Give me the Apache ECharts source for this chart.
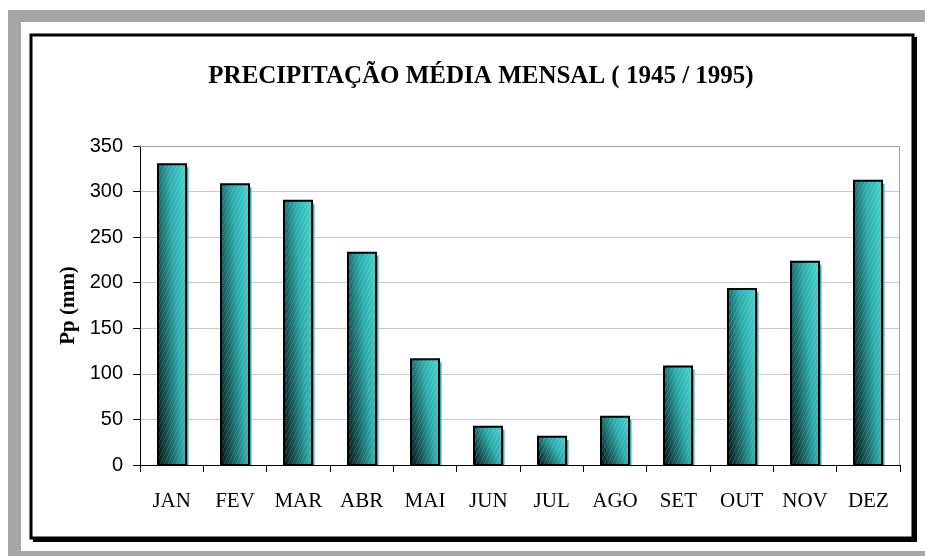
<!DOCTYPE html>
<html>
<head>
<meta charset="utf-8">
<script src="https://cdn.jsdelivr.net/npm/echarts@6/dist/echarts.min.js"></script>
<style>
  html, body { margin: 0; padding: 0; background: #fff; }
  #chart { width: 925px; height: 556px; }
</style>
</head>
<body>
<div id="chart"></div>
<script>
// dados (mm)
var months = ['JAN', 'FEV', 'MAR', 'ABR', 'MAI', 'JUN', 'JUL', 'AGO', 'SET', 'OUT', 'NOV', 'DEZ'];
var rainfall = [330, 308, 290, 233, 116, 42, 31, 53, 108, 193, 223, 312];
var yTicks = [0, 50, 100, 150, 200, 250, 300, 350];

var chart = echarts.init(document.getElementById('chart'));

// textura de listras diagonais finas
var hatch = document.createElement('canvas');
hatch.width = 4;
hatch.height = 8;
var hctx = hatch.getContext('2d');
hctx.strokeStyle = 'rgba(255,255,255,0.16)';
hctx.lineWidth = 1;
hctx.beginPath();
hctx.moveTo(0, 8);
hctx.lineTo(4, 0);
hctx.stroke();

var BAR_W = 28;
// peso horizontal / vertical do gradiente
var GRAD_A = 0.65, GRAD_B = 0.35;

/**
 * barra com gradiente (escuro em baixo à esquerda, ciano em cima à direita)
 * */
function renderBar(params, api) {
    var top = api.coord([api.value(0), api.value(1)]);
    var base = api.coord([api.value(0), 0]);
    var w = BAR_W;
    var h = Math.max(base[1] - top[1], 1);
    var x = Math.round(top[0] - w / 2);
    var y = top[1];
    // t = A*u + B*(1-v)  ->  vetor do gradiente em pixels
    var gx = GRAD_A / w, gy = -GRAD_B / h;
    var g2 = gx * gx + gy * gy;
    var x0 = x, y0 = y + h;
    var grad = new echarts.graphic.LinearGradient(x0, y0, x0 + gx / g2, y0 + gy / g2, [
        { offset: 0, color: '#041212' },
        { offset: 0.3, color: '#17605f' },
        { offset: 0.6, color: '#2cabab' },
        { offset: 1, color: '#42d6d2' }
    ], true);
    return {
        type: 'group',
        children: [
            // sombra 3D à direita
            { type: 'rect', shape: { x: x + w, y: y + 3, width: 2.5, height: Math.max(h - 3, 0) },
              style: { fill: '#2cb4b4' } },
            { type: 'rect', shape: { x: x, y: y, width: w, height: h },
              style: { fill: grad } },
            { type: 'rect', shape: { x: x, y: y, width: w, height: h },
              style: { fill: { image: hatch, repeat: 'repeat' }, stroke: '#000', lineWidth: 2 } }
        ]
    };
}

var frame = [
    // moldura cinza
    { type: 'rect', z: -10, shape: { x: 8, y: 10, width: 930, height: 560 }, style: { fill: '#a6a6a6' } },
    { type: 'rect', z: -9, shape: { x: 21, y: 22, width: 910, height: 529 }, style: { fill: '#fff' } },
    // sombra e borda preta
    { type: 'rect', z: -8, shape: { x: 33, y: 37, width: 884, height: 505 }, style: { fill: '#000' } },
    { type: 'rect', z: -7, shape: { x: 31, y: 35, width: 882, height: 503 },
      style: { fill: '#fff', stroke: '#000', lineWidth: 3 } },
    // borda cinza superior e direita da área do gráfico
    { type: 'polyline', z: 1, shape: { points: [[140, 146.5], [899.5, 146.5], [899.5, 465]] },
      style: { stroke: '#a0a0a0', lineWidth: 1, fill: null } }
];

var option = {
    animation: false,
    backgroundColor: '#fff',
    graphic: frame,
    title: {
        text: 'PRECIPITAÇÃO MÉDIA MENSAL ( 1945 / 1995)',
        left: 476,
        top: 59,
        textAlign: 'center',
        textStyle: {
            fontFamily: 'Liberation Serif',
            fontWeight: 'bold',
            fontSize: 25,
            color: '#000'
        }
    },
    grid: { left: 140, right: 25, top: 146, bottom: 91 },
    xAxis: {
        type: 'category',
        data: months,
        axisLine: { lineStyle: { color: '#000', width: 1 } },
        axisTick: { show: true, length: 7, lineStyle: { color: '#000' } },
        axisLabel: {
            margin: 26,
            fontFamily: 'Liberation Serif',
            fontSize: 21,
            color: '#000'
        }
    },
    yAxis: {
        type: 'value',
        min: yTicks[0],
        max: yTicks[yTicks.length - 1],
        interval: 50,
        name: 'Pp (mm)',
        nameLocation: 'middle',
        nameGap: 60,
        nameTextStyle: {
            fontFamily: 'Liberation Serif',
            fontWeight: 'bold',
            fontSize: 21,
            color: '#000'
        },
        axisLine: { show: true, lineStyle: { color: '#000', width: 1 } },
        axisTick: { show: true, length: 7, lineStyle: { color: '#000' } },
        axisLabel: {
            margin: 17,
            fontFamily: 'Liberation Sans',
            fontSize: 20,
            color: '#000'
        },
        splitLine: { lineStyle: { color: '#c8c8c8', width: 1 } }
    },
    series: [
        {
            type: 'custom',
            renderItem: renderBar,
            encode: { x: 0, y: 1 },
            data: months.map(function (m, i) { return [i, rainfall[i]]; }),
            z: 3
        }
    ]
};

chart.setOption(option);
</script>
</body>
</html>
